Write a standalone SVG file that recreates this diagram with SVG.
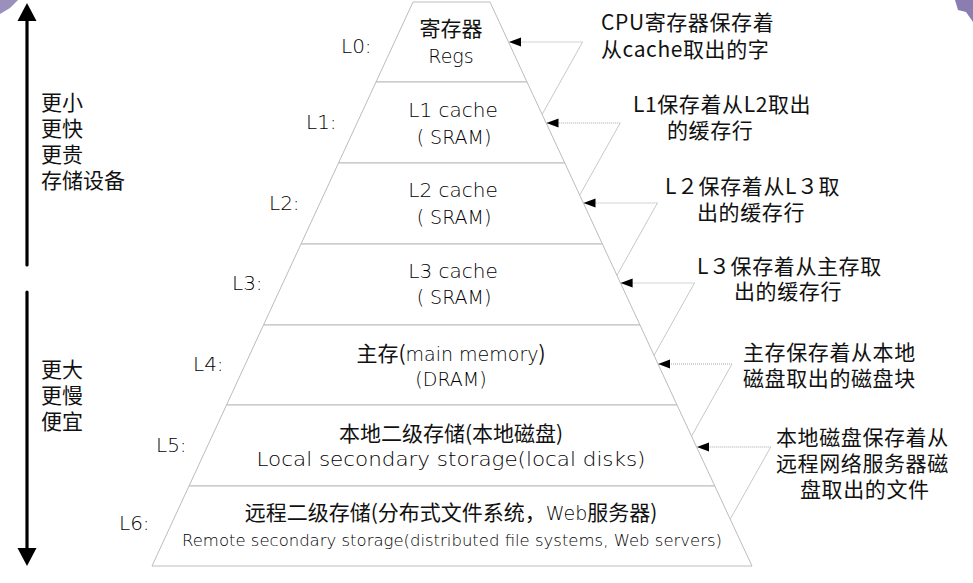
<svg xmlns="http://www.w3.org/2000/svg" width="973" height="583" viewBox="0 0 973 583">
<style>
.lvl{fill:#ffffff;stroke:#bcbcbc;stroke-width:1}
.cjk{font-family:"Noto Sans CJK SC","DejaVu Sans",sans-serif;font-size:21px;fill:#111}
.lat{font-family:"DejaVu Sans","Noto Sans",sans-serif;font-weight:200;fill:#000}
.ann{font-family:"Noto Sans CJK SC","DejaVu Sans",sans-serif;font-size:21px;fill:#111;letter-spacing:0.6px}
.lab{font-family:"DejaVu Sans","Noto Sans",sans-serif;font-weight:200;font-size:20px;fill:#000}
.dot{stroke:#a8a8a8;stroke-width:1;stroke-dasharray:1 1;fill:none}
.diag{stroke:#c8c8c8;stroke-width:1;fill:none}
.mid{text-anchor:middle}
</style>
<defs>
<marker id="ah" markerUnits="userSpaceOnUse" markerWidth="13" markerHeight="10" refX="12" refY="4.5" orient="auto">
<path d="M0,0 L12,4.5 L0,9 Z" fill="#000"/>
</marker>
</defs>
<rect width="973" height="583" fill="#ffffff"/>
<g id="corner-marks">
<polygon points="0,0 18,0 10,8 0,14" fill="#7a6aa6" opacity="0.75"/>
<polygon points="955,0 973,0 973,22 966,12 958,10" fill="#6e5c9e" opacity="0.8"/>
</g>

<g id="scale-arrows">
<line x1="27" y1="18" x2="27" y2="265" stroke="#000" stroke-width="3.2" stroke-linecap="round"/>
<polygon points="27,3 36.5,21 17.5,21" fill="#000"/>
<line x1="27" y1="292" x2="27" y2="550" stroke="#000" stroke-width="3.2" stroke-linecap="round"/>
<polygon points="27,566 36.5,548 17.5,548" fill="#000"/>
<text class="cjk" x="41" y="110">更小</text>
<text class="cjk" x="41" y="136">更快</text>
<text class="cjk" x="41" y="162">更贵</text>
<text class="cjk" x="41" y="188">存储设备</text>
<text class="cjk" x="41" y="377">更大</text>
<text class="cjk" x="41" y="403">更慢</text>
<text class="cjk" x="41" y="429">便宜</text>
</g>

<g id="L0">
<polygon class="lvl" points="413,2 490,2 527,82 376,82"/>
<text class="lab" x="341" y="53">L0:</text>
<text class="cjk mid" x="451" y="36">寄存器</text>
<text class="lat mid" x="451" y="63" font-size="19">Regs</text>
</g>
<g id="L1">
<polygon class="lvl" points="376,82 527,82 564.8,163 338.5,163"/>
<text class="lab" x="306" y="129">L1:</text>
<text class="lat mid" x="453" y="117" font-size="20">L1 cache</text>
<text class="lat mid" x="454" y="144" font-size="19">( SRAM)</text>
</g>
<g id="L2">
<polygon class="lvl" points="338.5,163 564.8,163 602.4,244 301,244"/>
<text class="lab" x="269" y="210">L2:</text>
<text class="lat mid" x="453" y="197" font-size="20">L2 cache</text>
<text class="lat mid" x="454" y="224" font-size="19">( SRAM)</text>
</g>
<g id="L3">
<polygon class="lvl" points="301,244 602.4,244 640,325 263.5,325"/>
<text class="lab" x="232" y="290">L3:</text>
<text class="lat mid" x="453" y="278" font-size="20">L3 cache</text>
<text class="lat mid" x="454" y="304" font-size="19">( SRAM)</text>
</g>
<g id="L4">
<polygon class="lvl" points="263.5,325 640,325 677,405 226.5,405"/>
<text class="lab" x="193" y="371">L4:</text>
<text class="mid" x="451" y="361"><tspan class="cjk">主存(</tspan><tspan class="lat" font-size="19">main memory</tspan><tspan class="cjk">)</tspan></text>
<text class="lat mid" x="451" y="386" font-size="19">(DRAM)</text>
</g>
<g id="L5">
<polygon class="lvl" points="226.5,405 677,405 714.8,486 189,486"/>
<text class="lab" x="156" y="452">L5:</text>
<text class="cjk mid" x="451" y="441">本地二级存储(本地磁盘)</text>
<text class="lat mid" x="451" y="466" font-size="19" textLength="389" lengthAdjust="spacingAndGlyphs">Local secondary storage(local disks)</text>
</g>
<g id="L6">
<polygon class="lvl" points="189,486 714.8,486 752,566 152,566"/>
<text class="lab" x="119" y="530">L6:</text>
<text class="mid" x="451" y="520"><tspan class="cjk">远程二级存储(分布式文件系统，</tspan><tspan class="lat" font-size="19">Web</tspan><tspan class="cjk">服务器)</tspan></text>
<text class="lat mid" x="452" y="546" font-size="15" textLength="540" lengthAdjust="spacingAndGlyphs">Remote secondary storage(distributed file systems, Web servers)</text>
</g>

<g id="connectors">
<line class="dot" x1="582.6" y1="42" x2="509" y2="42" marker-end="url(#ah)"/>
<line class="diag" x1="582.6" y1="42" x2="542.2" y2="114.3"/>
<line class="dot" x1="620.2" y1="123" x2="546.5" y2="123" marker-end="url(#ah)"/>
<line class="diag" x1="620.2" y1="123" x2="579.7" y2="195.2"/>
<line class="dot" x1="657.4" y1="203" x2="583.5" y2="203" marker-end="url(#ah)"/>
<line class="diag" x1="657.4" y1="203" x2="617" y2="275.3"/>
<line class="dot" x1="694.5" y1="283" x2="620.6" y2="283" marker-end="url(#ah)"/>
<line class="diag" x1="694.5" y1="283" x2="654.1" y2="355.2"/>
<line class="dot" x1="732" y1="364" x2="658.2" y2="364" marker-end="url(#ah)"/>
<line class="diag" x1="732" y1="364" x2="691.6" y2="436.1"/>
<line class="dot" x1="770.7" y1="447" x2="697" y2="447" marker-end="url(#ah)"/>
<line class="diag" x1="770.7" y1="447" x2="730.2" y2="519.2"/>
</g>

<g id="annotations">
<text class="ann" x="601" y="30">CPU寄存器保存着</text>
<text class="ann" x="601" y="57">从cache取出的字</text>
<text class="ann" x="633" y="112">L1保存着从L2取出</text>
<text class="ann" x="667" y="138">的缓存行</text>
<text class="ann" x="665" y="194">L２保存着从L３取</text>
<text class="ann" x="697" y="220">出的缓存行</text>
<text class="ann" x="697" y="274">L３保存着从主存取</text>
<text class="ann" x="734" y="299">出的缓存行</text>
<text class="ann" x="743" y="360">主存保存着从本地</text>
<text class="ann" x="743" y="386">磁盘取出的磁盘块</text>
<text class="ann" x="776" y="445">本地磁盘保存着从</text>
<text class="ann" x="776" y="471">远程网络服务器磁</text>
<text class="ann" x="800" y="497">盘取出的文件</text>
</g>
</svg>
